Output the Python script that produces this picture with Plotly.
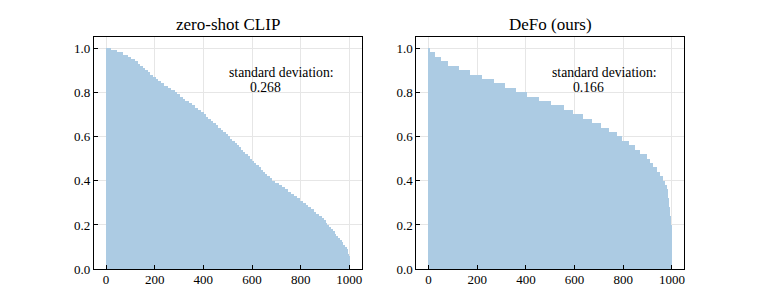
import numpy as np
import plotly.graph_objects as go

# ---- data: per-class accuracy levels and the number of classes at each level ----
clip_levels = [1.00, 0.99, 0.98, 0.97, 0.96, 0.95, 0.94, 0.93, 0.92, 0.91,
               0.90, 0.89, 0.88, 0.87, 0.86, 0.85, 0.84, 0.83, 0.82, 0.81,
               0.80, 0.79, 0.78, 0.77, 0.76, 0.75, 0.74, 0.73, 0.72, 0.71,
               0.70, 0.69, 0.68, 0.67, 0.66, 0.65, 0.64, 0.63, 0.62, 0.61,
               0.60, 0.59, 0.58, 0.57, 0.56, 0.55, 0.54, 0.53, 0.52, 0.51,
               0.50, 0.49, 0.48, 0.47, 0.46, 0.45, 0.44, 0.43, 0.42, 0.41,
               0.40, 0.39, 0.38, 0.37, 0.36, 0.35, 0.34, 0.33, 0.32, 0.31,
               0.30, 0.29, 0.28, 0.27, 0.26, 0.25, 0.24, 0.23, 0.22, 0.21,
               0.20, 0.19, 0.18, 0.17, 0.16, 0.15, 0.14, 0.13, 0.12, 0.11,
               0.10, 0.09, 0.08, 0.07, 0.06, 0.05]
clip_counts = [20, 22, 25, 20, 15, 15, 12, 10, 10, 10,
               10, 11, 11, 11, 11, 11, 14, 14, 14, 14,
               11, 11, 11, 11, 13, 13, 13, 13, 13, 10,
               10, 10, 10, 10, 10, 10, 10, 10, 10, 10,
               9, 9, 9, 9, 9, 9, 9, 9, 9, 9,
               9, 9, 9, 9, 9, 9, 9, 9, 10, 10,
               13, 13, 13, 13, 13, 12, 12, 12, 12, 12,
               12, 11, 11, 11, 11, 11, 11, 8, 8, 8,
               8, 8, 7, 7, 7, 7, 7, 7, 7, 7,
               7, 4, 3, 3, 2, 1]

defo_levels = [1.00, 0.98, 0.96, 0.94, 0.92, 0.90, 0.88, 0.86, 0.84, 0.82,
               0.80, 0.78, 0.76, 0.74, 0.72, 0.70, 0.68, 0.66, 0.64, 0.62,
               0.60, 0.58, 0.56, 0.54, 0.52, 0.50, 0.48, 0.46, 0.44, 0.42,
               0.40, 0.38, 0.36, 0.34, 0.32, 0.30, 0.28, 0.26, 0.24, 0.22,
               0.20, 0.18]
defo_counts = [7, 18, 25, 30, 47, 45, 48, 48, 48, 42,
               47, 48, 51, 52, 37, 41, 36, 40, 32, 33,
               22, 27, 25, 22, 25, 14, 14, 14, 14, 11,
               10, 7, 3, 3, 2, 2, 2, 2, 2, 2,
               1, 1]

titles = ["zero-shot CLIP", "DeFo (ours)"]
std_texts = ["0.268", "0.166"]
x_ticks = [0, 200, 400, 600, 800, 1000]
y_ticks = [0.0, 0.2, 0.4, 0.6, 0.8, 1.0]

clip_vals = np.repeat(clip_levels, clip_counts)
defo_vals = np.repeat(defo_levels, defo_counts)

BAR = "rgb(172,203,227)"
FONT = "Liberation Serif"

fig = go.Figure()
for i, vals in enumerate([clip_vals, defo_vals]):
    sfx = "" if i == 0 else "2"
    fig.add_trace(go.Bar(
        x=np.arange(len(vals)), y=vals,
        marker=dict(color=BAR, line=dict(width=0)),
        xaxis="x" + sfx, yaxis="y" + sfx, showlegend=False,
        hoverinfo="skip"))

OFF = 8
W, H = 761 - 2 * OFF, 305 - 2 * OFF
doms = [(94 - OFF, 362 - OFF), (417 - OFF, 685 - OFF)]
ydom = [0.0706, 0.8962]

axis_common = dict(
    showline=True, linecolor="black", linewidth=1, mirror=True,
    ticks="inside", ticklen=4, tickwidth=1, tickcolor="black",
    showgrid=True, gridcolor="#e6e6e6", gridwidth=1,
    zeroline=False,
    tickfont=dict(family=FONT, size=13, color="black"),
)

layout = dict(
    width=W, height=H,
    margin=dict(l=0, r=0, t=0, b=0),
    paper_bgcolor="white", plot_bgcolor="white",
    bargap=0, barmode="overlay",
    font=dict(family=FONT, color="black"),
    annotations=[],
)
for i in range(2):
    sfx = "" if i == 0 else "2"
    x0, x1 = doms[i]
    layout["xaxis" + sfx] = dict(
        axis_common, domain=[x0 / W, x1 / W], range=[-50, 1050],
        tickvals=x_ticks, anchor="y" + sfx, ticklabelstandoff=-2)
    layout["yaxis" + sfx] = dict(
        axis_common, domain=ydom, range=[0, 1.05],
        tickvals=y_ticks, tickformat=".1f", anchor="x" + sfx)
    layout["annotations"] += [
        dict(text=titles[i], xref="paper", yref="paper",
             x=(x0 + x1) / 2 / W, y=0.942,
             xanchor="center", yanchor="middle",
             showarrow=False, font=dict(family=FONT, size=17, color="black")),
        dict(text="standard deviation:", xref="x" + sfx, yref="y" + sfx,
             x=498, y=0.889, xanchor="left", yanchor="middle",
             showarrow=False, font=dict(family=FONT, size=13.7, color="black")),
        dict(text=std_texts[i], xref="x" + sfx, yref="y" + sfx,
             x=584, y=0.821, xanchor="left", yanchor="middle",
             showarrow=False, font=dict(family=FONT, size=13.7, color="black")),
    ]

fig.update_layout(**layout)
fig.write_html("out.html")
